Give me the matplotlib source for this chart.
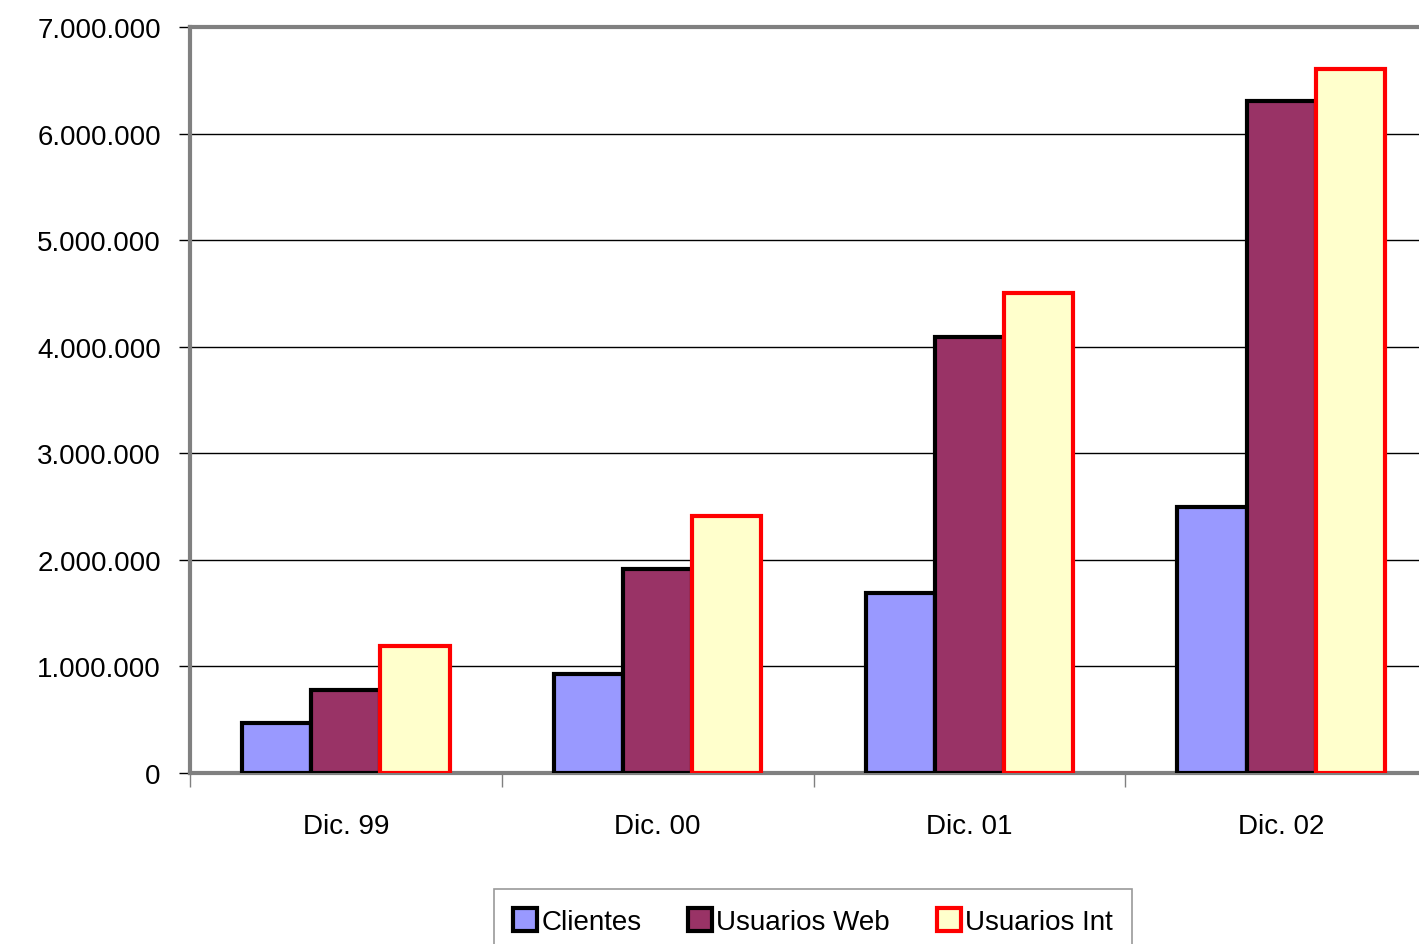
import numpy as np
import matplotlib
matplotlib.use("Agg")
import matplotlib.pyplot as plt
from matplotlib.ticker import FuncFormatter

plt.rcParams['font.family'] = ['Liberation Sans', 'DejaVu Sans']

# data
periods = ['Dic. 99', 'Dic. 00', 'Dic. 01', 'Dic. 02']
series_names = ['Clientes', 'Usuarios Web', 'Usuarios Int']
clientes = [470000, 930000, 1690000, 2500000]
usuarios_web = [780000, 1910000, 4090000, 6310000]
usuarios_int = [1190000, 2410000, 4500000, 6610000]

fills = ['#9999FF', '#993366', '#FFFFCC']
edges = ['black', 'black', '#FF0000']

fig = plt.figure(figsize=(14.19, 9.45), dpi=100)
# plot area runs past the right edge of the picture, like the original
ax = fig.add_axes([190 / 1419, (945 - 774) / 945, (1437 - 190) / 1419, (774 - 28) / 945])

centers = np.arange(len(periods)) + 0.5
w = 0.222
for k, vals in enumerate([clientes, usuarios_web, usuarios_int]):
    ax.bar(centers + (k - 1) * w, vals, width=w, color=fills[k],
           edgecolor=edges[k], linewidth=3, label=series_names[k], zorder=3)

ax.set_xlim(0, len(periods))
ax.set_ylim(0, 7000000)
ax.set_yticks(np.arange(0, 7000001, 1000000))
ax.yaxis.set_major_formatter(FuncFormatter(lambda v, p: f"{int(v):,}".replace(',', '.')))
ax.grid(axis='y', color='black', linewidth=1, zorder=0)

ax.set_xticks(np.arange(0, len(periods) + 1))
ax.set_xticklabels([])
ax.set_xticks(centers, minor=True)
ax.set_xticklabels(periods, minor=True)
ax.tick_params(axis='x', which='major', length=10, width=1, color='#808080', direction='out')
ax.tick_params(axis='x', which='minor', length=0, pad=29, labelsize=20)
ax.tick_params(axis='y', length=8, width=1, color='black', pad=13, labelsize=20)

for s in ['left', 'top', 'bottom', 'right']:
    ax.spines[s].set_color('#808080')
    ax.spines[s].set_linewidth(3)

leg = ax.legend(loc='upper center', bbox_to_anchor=(813 / 1419, (945 - 890) / 945),
                bbox_transform=fig.transFigure, ncol=3, frameon=True, fancybox=False,
                fontsize=20, handlelength=0.85, handleheight=0.85, handletextpad=0.15,
                columnspacing=1.7, borderaxespad=0, borderpad=0.7)
leg.get_frame().set_edgecolor('#808080')
leg.get_frame().set_linewidth(1.2)

fig.savefig('out.png', dpi=100)
